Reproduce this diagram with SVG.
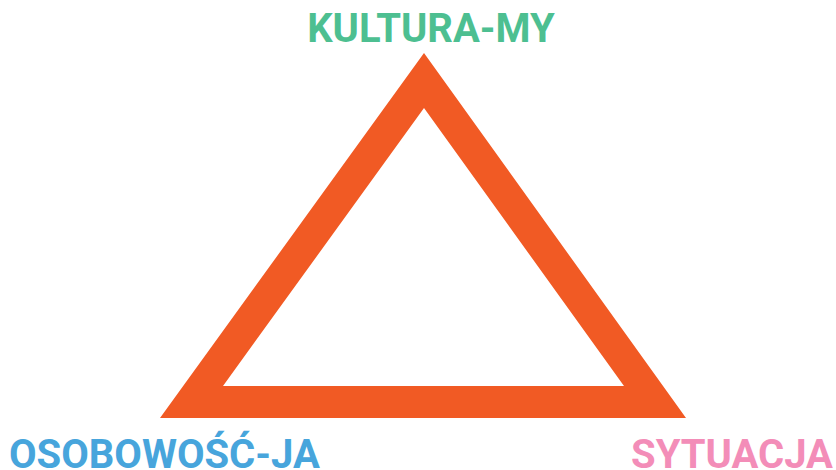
<svg xmlns="http://www.w3.org/2000/svg" width="836" height="470" viewBox="0 0 836 470">
<style>
.lbl{font-family:Roboto,"Liberation Sans",sans-serif;font-weight:bold;font-size:40px}
</style>
<rect width="836" height="470" fill="#ffffff"/>
<g id="triangle">
<path d="M424,53 L686,418 L160,418 Z M424,108 L223,386 L624,386 Z" fill="#F15A24" fill-rule="evenodd"/>
</g>
<g id="kultura">
<text class="lbl" x="431" y="42" text-anchor="middle" fill="#4DBF91">KULTURA-MY</text>
</g>
<g id="osobowosc">
<text class="lbl" x="9" y="468" fill="#47A5DC">OSOBOWOŚĆ-JA</text>
</g>
<g id="sytuacja">
<text class="lbl" x="833" y="468" text-anchor="end" fill="#F38DB8">SYTUACJA</text>
</g>
<g id="connectors"/>
</svg>
